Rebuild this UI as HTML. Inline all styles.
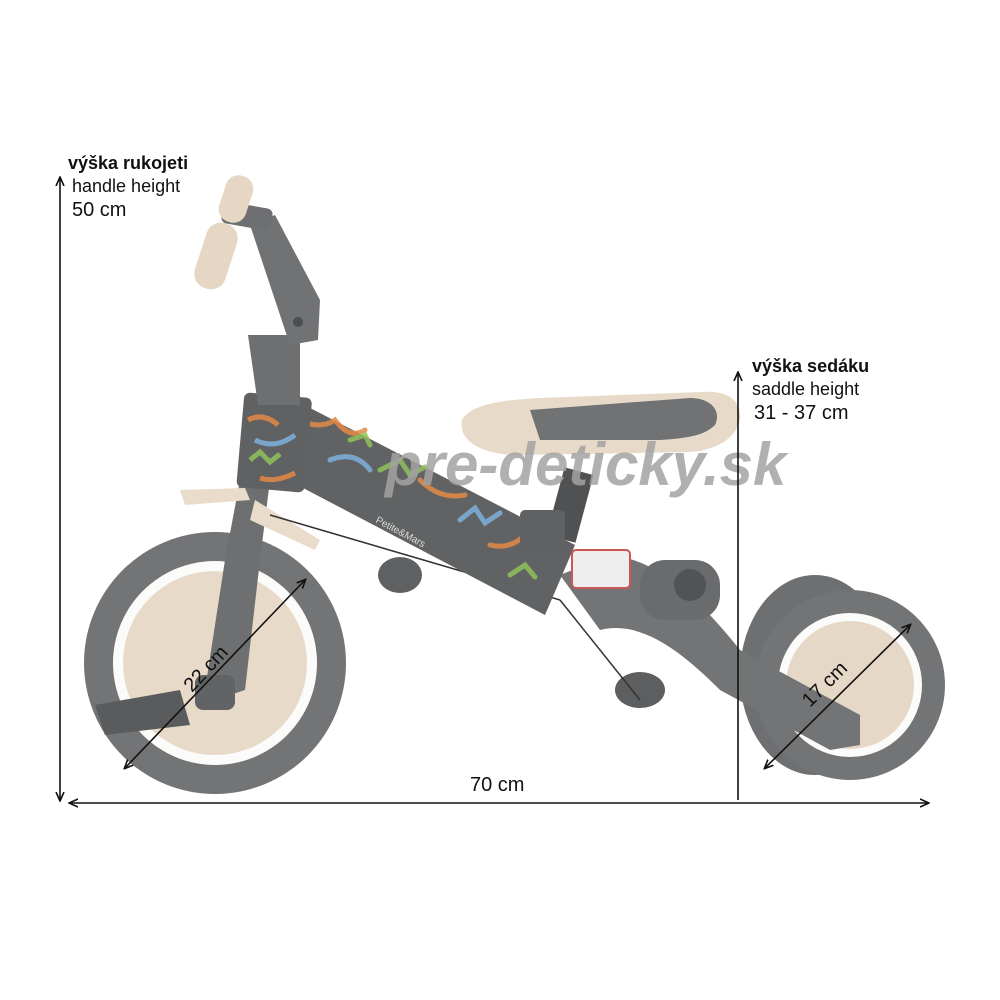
<!DOCTYPE html>
<html><head><meta charset="utf-8"><style>
html,body{margin:0;padding:0;background:#fff;width:1000px;height:1000px;overflow:hidden}
svg{display:block}
</style></head><body>
<svg width="1000" height="1000" viewBox="0 0 1000 1000" xmlns="http://www.w3.org/2000/svg" font-family="Liberation Sans, DejaVu Sans, sans-serif">
<defs>
<marker id="ah" markerWidth="10" markerHeight="10" refX="8" refY="5" orient="auto-start-reverse" markerUnits="userSpaceOnUse"><path d="M0,1 L9,5 L0,9" fill="none" stroke="#111" stroke-width="1.6"/></marker>
</defs>

<ellipse cx="815" cy="675" rx="75" ry="100" fill="#6e6f71"/>
<circle cx="850" cy="685" r="95" fill="#737476"/>
<circle cx="850" cy="685" r="72" fill="#fbfbfa"/>
<circle cx="850" cy="685" r="64" fill="#e6d8c7"/>

<circle cx="215" cy="663" r="131" fill="#737476"/>
<circle cx="215" cy="663" r="102" fill="#fbfbfa"/>
<circle cx="215" cy="663" r="92" fill="#e8dac8"/>

<path d="M560,575 L610,555 C660,560 700,600 740,650 L860,715 L860,745 L830,750 L720,690 C680,650 640,620 600,630 Z" fill="#737476"/>
<rect x="640" y="560" width="80" height="60" rx="25" fill="#6a6b6d"/>
<circle cx="690" cy="585" r="16" fill="#525355"/>
<ellipse cx="640" cy="690" rx="25" ry="18" fill="#5d5e60"/>
<ellipse cx="400" cy="575" rx="22" ry="18" fill="#5f6062"/>

<path d="M240,480 L270,480 L260,560 L245,690 L215,700 L205,690 L225,560 Z" fill="#6e6f71"/>
<rect x="195" y="675" width="40" height="35" rx="8" fill="#626365"/>
<path d="M95,705 L180,690 L190,725 L105,735 Z" fill="#5a5b5d"/>
<path d="M180,490 L245,488 L250,500 L185,505 Z" fill="#e9dccb"/>
<path d="M255,500 L320,540 L315,550 L250,520 Z" fill="#e9dccb"/>
<line x1="270" y1="515" x2="560" y2="600" stroke="#333" stroke-width="1.5"/>
<line x1="560" y1="600" x2="640" y2="700" stroke="#333" stroke-width="1.5"/>

<path d="M285,395 L575,545 L545,615 L265,468 Z" fill="#606264"/>
<g opacity="0.85" stroke-width="5" fill="none" stroke-linecap="round">
<path d="M300,420 q20,10 35,0 q15,20 30,10" stroke="#e48a45"/>
<path d="M330,460 q25,-10 40,10" stroke="#7fb1de"/>
<path d="M380,470 l20,-10 l10,15 l15,-8" stroke="#8fc25a"/>
<path d="M420,480 q20,20 45,15" stroke="#e48a45"/>
<path d="M460,520 l15,-12 l10,15 l15,-10" stroke="#7fb1de"/>
<path d="M490,545 q20,5 35,-10" stroke="#e48a45"/>
<path d="M510,575 l15,-10 l10,12" stroke="#8fc25a"/>
<path d="M350,440 l15,-5 l5,10" stroke="#8fc25a"/>
</g>
<text x="375" y="522" fill="#ddd" font-size="10" transform="rotate(28 375 522)">Petite&amp;Mars</text>

<rect x="240" y="395" width="68" height="95" rx="6" fill="#5f6163" transform="rotate(5 274 445)"/>
<g opacity="0.85" stroke-width="5" fill="none">
<path d="M248,420 q15,-8 30,5" stroke="#e48a45"/>
<path d="M255,440 q20,10 40,-5" stroke="#7fb1de"/>
<path d="M250,460 l10,-8 l10,10 l10,-8" stroke="#8fc25a"/>
<path d="M260,478 q15,5 35,-5" stroke="#e48a45"/>
</g>
<path d="M248,335 L300,335 L300,405 L258,405 Z" fill="#6e6f71"/>
<path d="M250,225 L275,215 L320,300 L318,340 L290,345 Z" fill="#717274"/>
<circle cx="298" cy="322" r="5" fill="#4d4e50"/>
<rect x="222" y="205" width="50" height="22" rx="6" fill="#6e6f71" transform="rotate(10 247 216)"/>
<rect x="222" y="175" width="28" height="48" rx="13" fill="#e6d7c4" transform="rotate(18 236 199)"/>
<rect x="200" y="222" width="32" height="68" rx="15" fill="#e6d7c4" transform="rotate(18 216 256)"/>

<rect x="555" y="470" width="30" height="70" fill="#505153" transform="rotate(15 570 505)"/>
<rect x="520" y="510" width="45" height="45" rx="5" fill="#606163"/>
<path d="M462,420 C470,405 500,400 540,398 L700,392 C725,390 742,398 740,420 C735,440 715,450 690,452 L520,455 C480,455 458,440 462,420 Z" fill="#e8dac8"/>
<path d="M530,410 L690,398 C710,398 722,410 715,425 C705,435 690,438 660,440 L540,440 Z" fill="#717274"/>
<rect x="572" y="550" width="58" height="38" rx="4" fill="#eee" stroke="#c55" stroke-width="2"/>

<text x="385" y="485" font-size="60" font-style="italic" font-weight="bold" fill="#a3a3a3" opacity="0.85" font-family="Liberation Sans, sans-serif">pre-deticky.sk</text>

<line x1="60" y1="178" x2="60" y2="800" stroke="#111" stroke-width="1.6" marker-start="url(#ah)" marker-end="url(#ah)"/>
<line x1="70" y1="803" x2="928" y2="803" stroke="#111" stroke-width="1.6" marker-start="url(#ah)" marker-end="url(#ah)"/>
<line x1="738" y1="373" x2="738" y2="800" stroke="#111" stroke-width="1.6" marker-start="url(#ah)"/>
<line x1="125" y1="768" x2="305" y2="580" stroke="#111" stroke-width="1.6" marker-start="url(#ah)" marker-end="url(#ah)"/>
<line x1="765" y1="768" x2="910" y2="625" stroke="#111" stroke-width="1.6" marker-start="url(#ah)" marker-end="url(#ah)"/>

<text x="192" y="693" font-size="20" fill="#111" transform="rotate(-47 192 693)">22 cm</text>
<text x="810" y="708" font-size="20" fill="#111" transform="rotate(-45 810 708)">17 cm</text>
<text x="470" y="791" font-size="20" fill="#111">70 cm</text>

<text x="68" y="169" font-size="18" font-weight="bold" fill="#111">výška rukojeti</text>
<text x="72" y="192" font-size="18" fill="#111">handle height</text>
<text x="72" y="216" font-size="20" fill="#111">50 cm</text>

<text x="752" y="372" font-size="18" font-weight="bold" fill="#111">výška sedáku</text>
<text x="752" y="395" font-size="18" fill="#111">saddle height</text>
<text x="754" y="419" font-size="20" fill="#111">31 - 37 cm</text>
</svg>
</body></html>
